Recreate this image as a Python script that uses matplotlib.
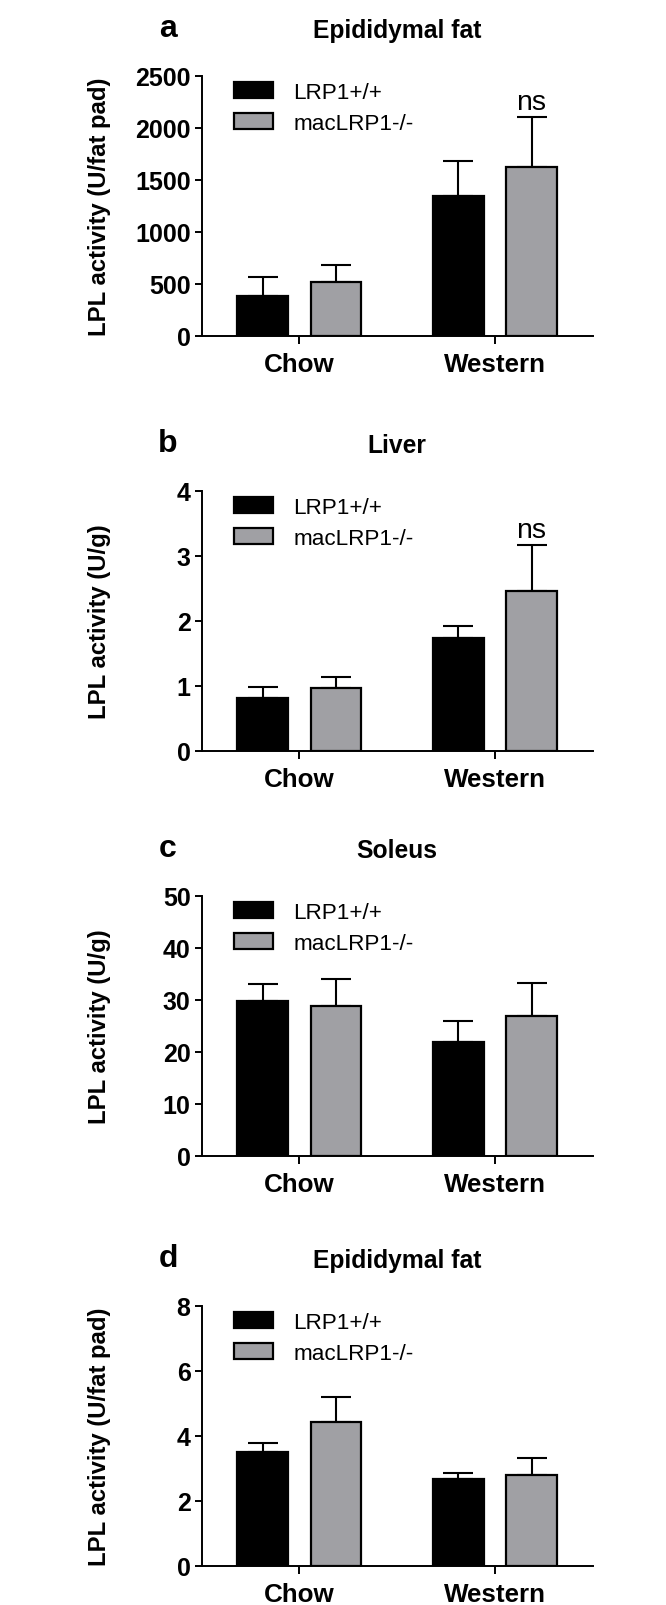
import matplotlib
matplotlib.use("Agg")
import matplotlib.pyplot as plt
import numpy as np
from matplotlib.patches import Patch

plt.rcParams['font.family'] = ['Liberation Sans', 'DejaVu Sans']

groups = ["Chow", "Western"]
series = ["LRP1+/+", "macLRP1-/-"]

# panel a
a_wt = [385, 1346]
a_wt_err = [176, 331]
a_ko = [513, 1619]
a_ko_err = [167, 481]
# panel b
b_wt = [0.817, 1.727]
b_wt_err = [0.169, 0.189]
b_ko = [0.97, 2.452]
b_ko_err = [0.169, 0.705]
# panel c
c_wt = [29.7, 21.9]
c_wt_err = [3.3, 4.1]
c_ko = [28.8, 26.8]
c_ko_err = [5.1, 6.5]
# panel d
d_wt = [3.49, 2.67]
d_wt_err = [0.30, 0.18]
d_ko = [4.43, 2.79]
d_ko_err = [0.76, 0.52]

letters = ["a", "b", "c", "d"]
titles = ["Epididymal fat", "Liver", "Soleus", "Epididymal fat"]
ylabels = ["LPL activity (U/fat pad)", "LPL activity (U/g)", "LPL activity (U/g)", "LPL activity (U/fat pad)"]
ymaxes = [2500, 4, 50, 8]
ysteps = [500, 1, 10, 2]
ns_flags = [True, True, False, False]

data = [
    (a_wt, a_wt_err, a_ko, a_ko_err),
    (b_wt, b_wt_err, b_ko, b_ko_err),
    (c_wt, c_wt_err, c_ko, c_ko_err),
    (d_wt, d_wt_err, d_ko, d_ko_err),
]

W, H = 666, 1606
fig = plt.figure(figsize=(W / 100, H / 100), dpi=100)

ax_left = 201.7 / W
ax_w = 391 / W
ax_h = 260 / H
bottoms_px = [336.7, 751.7, 1156.7, 1566.7]

grey = "#a0a0a4"
off = 0.187
bw = 0.26
lw = 1.5

for i in range(4):
    ax = fig.add_axes([ax_left, 1 - bottoms_px[i] / H, ax_w, ax_h])
    wt, wt_e, ko, ko_e = data[i]
    x = np.arange(len(groups))
    ax.bar(x - off, wt, bw, color="black", edgecolor="black", linewidth=1.6, zorder=3)
    ax.bar(x + off, ko, bw, color=grey, edgecolor="black", linewidth=1.6, zorder=3)
    ax.errorbar(x - off, wt, yerr=[np.zeros(len(wt)), wt_e], fmt="none", ecolor="black",
                elinewidth=lw, capsize=10.8, capthick=lw, zorder=2)
    ax.errorbar(x + off, ko, yerr=[np.zeros(len(ko)), ko_e], fmt="none", ecolor="black",
                elinewidth=lw, capsize=10.8, capthick=lw, zorder=2)
    ax.set_xlim(-0.5, 1.5)
    ax.set_ylim(0, ymaxes[i])
    ax.set_yticks(np.arange(0, ymaxes[i] + ysteps[i] / 2, ysteps[i]))
    ax.set_xticks(x)
    ax.set_xticklabels(groups)
    for s in ["top", "right"]:
        ax.spines[s].set_visible(False)
    for s in ["left", "bottom"]:
        ax.spines[s].set_linewidth(1.4)
    ax.tick_params(axis="y", direction="out", length=5, width=1.4, pad=3,
                   labelsize=18)
    ax.tick_params(axis="x", direction="out", length=6, width=1.4, pad=5.5,
                   labelsize=18.7)
    for t in ax.get_yticklabels() + ax.get_xticklabels():
        t.set_fontweight("bold")
    ax.set_ylabel(ylabels[i], fontsize=17.2, fontweight="bold")
    ax.yaxis.set_label_coords(-0.232, 0.5)
    ax.text(0.5, 1.148, titles[i], transform=ax.transAxes, ha="center", va="baseline",
            fontsize=17.7, fontweight="bold")
    ax.text(-0.086, 1.152, letters[i], transform=ax.transAxes, ha="center", va="baseline",
            fontsize=23, fontweight="bold")
    handles = [Patch(facecolor="black", edgecolor="black", linewidth=1.6),
               Patch(facecolor=grey, edgecolor="black", linewidth=1.6)]
    ax.legend(handles, series, loc="upper left", bbox_to_anchor=(0.0826, 0.977),
              frameon=False, fontsize=16.2, handlelength=1.75, handleheight=0.72,
              handletextpad=0.9, labelspacing=0.45, borderpad=0, borderaxespad=0)
    if ns_flags[i]:
        ax.annotate("ns", xy=(1 + off, ko[1] + ko_e[1]), xytext=(0, 6),
                    textcoords="offset points", ha="center", va="baseline",
                    fontsize=20.5)

fig.savefig("out.png", dpi=100)
